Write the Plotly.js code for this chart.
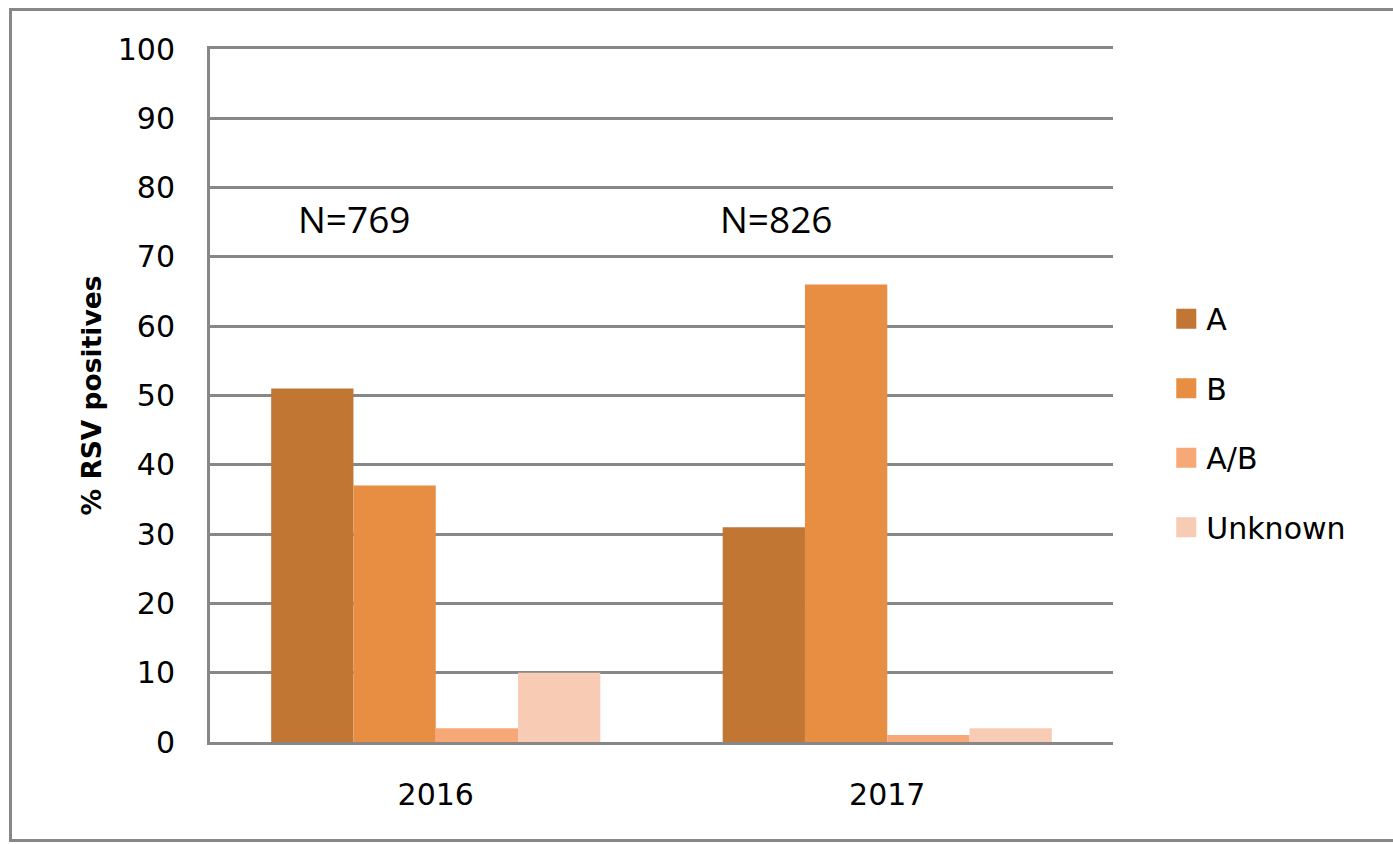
<!DOCTYPE html>
<html>
<head>
<meta charset="utf-8">
<script src="https://cdn.plot.ly/plotly-3.0.1.min.js"></script>
<style>
  html, body { margin: 0; padding: 0; background: #fff; }
  #wrap { position: relative; width: 1393px; height: 844px; overflow: hidden; }
  #chart { position: absolute; left: 0; top: 0; width: 1393px; height: 844px; }
  #frame { position: absolute; left: 9px; top: 8px; width: 1400px; height: 834px;
           border: 3px solid #878787; box-sizing: border-box; pointer-events: none; }
</style>
</head>
<body>
<div id="wrap">
  <div id="chart"></div>
  <div id="frame"></div>
</div>
<script>
const years = ['2016', '2017'];
const seriesNames = ['A', 'B', 'A/B', 'Unknown'];
const valuesA = [51, 31];
const valuesB = [37, 66];
const valuesAB = [2, 1];
const valuesUnknown = [10, 2];
const sampleLabels = ['N=769', 'N=826'];
const yTicks = [0, 10, 20, 30, 40, 50, 60, 70, 80, 90, 100];

const colors = ['#C27634', '#E88E43', '#F6A977', '#F8CBB4'];
const allValues = [valuesA, valuesB, valuesAB, valuesUnknown];

const traces = seriesNames.map((name, i) => ({
  type: 'bar',
  name: name,
  x: years,
  y: allValues[i],
  marker: { color: colors[i], line: { width: 0 } },
  legendgroup: 'g' + i,
  hoverinfo: 'x+y+name'
}));

const font = 'DejaVu Sans, Verdana, sans-serif';
const grid = '#878787';

const annX = [0.1595, 0.627];
const annotations = sampleLabels.map((t, i) => ({
  text: t,
  xref: 'paper', x: annX[i], xanchor: 'center',
  yref: 'y', y: 75.5, yanchor: 'middle',
  showarrow: false,
  font: { family: 'Open Sans, sans-serif', size: 37, color: '#000' }
}));

const layout = {
  width: 1393, height: 844,
  margin: { l: 210, r: 280, t: 49, b: 102 },
  paper_bgcolor: '#fff', plot_bgcolor: '#fff',
  barmode: 'group', bargap: 0.271, bargroupgap: 0,
  font: { family: font, size: 30, color: '#000' },
  xaxis: {
    type: 'category',
    showgrid: false,
    showline: true, linecolor: grid, linewidth: 3, mirror: true,
    ticks: '', ticklabelstandoff: 24,
    tickfont: { family: font, size: 30, color: '#000' },
    zeroline: false
  },
  yaxis: {
    range: [0, 100], tickvals: yTicks, ticktext: yTicks.map(String),
    showgrid: true, gridcolor: grid, gridwidth: 3,
    showline: true, linecolor: grid, linewidth: 3,
    zeroline: false,
    ticks: '', ticklabelstandoff: 26,
    tickfont: { family: font, size: 30, color: '#000' },
    title: { text: '% RSV positives', standoff: 9,
             font: { family: font, size: 26.5, color: '#000', weight: 'bold' } },
    automargin: false
  },
  legend: {
    x: 1.059, xanchor: 'left', y: 0.46, yanchor: 'middle',
    font: { family: font, size: 30, color: '#000' },
    traceorder: 'grouped', tracegroupgap: 27.5,
    bgcolor: 'rgba(0,0,0,0)', borderwidth: 0
  },
  annotations: annotations,
  showlegend: true
};

Plotly.newPlot('chart', traces, layout, { displayModeBar: false, staticPlot: true }).then(gd => {
  // enlarge the legend swatches to match the reference's square keys
  gd.querySelectorAll('.legend .legendpoints path').forEach(p => {
    const t = p.getAttribute('transform') || '';
    p.setAttribute('transform', t + ' scale(1.67)');
  });
});
</script>
</body>
</html>
